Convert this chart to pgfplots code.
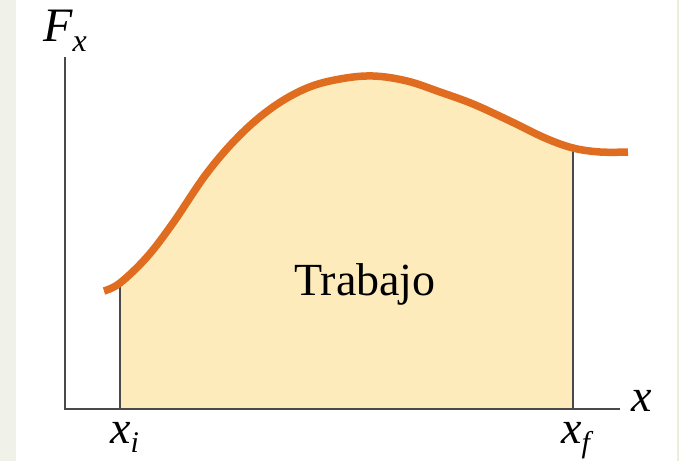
\documentclass[border=0pt]{standalone}
\usepackage{pgfplots}
\pgfplotsset{compat=1.18}
\usepgfplotslibrary{fillbetween}
\usepackage{fontspec}
\setmainfont{Liberation Serif}
\definecolor{leftbg}{HTML}{F0F2EA}
\definecolor{rightbg}{HTML}{E7EFD8}
\definecolor{areafill}{HTML}{FEEBBB}
\definecolor{curvecol}{HTML}{E06C1F}
\definecolor{axiscol}{HTML}{4A4A4A}
\begin{document}
\begin{tikzpicture}
\begin{axis}[
  set layers,
  width=679pt, height=461pt, scale only axis,
  xmin=0, xmax=679, ymin=0, ymax=461, y dir=reverse,
  hide axis, clip=false,
]
\begin{pgfonlayer}{axis background}
\fill[white] (axis cs:0,0) rectangle (axis cs:679,461);
\fill[leftbg] (axis cs:0,0) rectangle (axis cs:16,461);
\fill[rightbg] (axis cs:677,0) rectangle (axis cs:679,461);
\end{pgfonlayer}

\addplot[name path=curve, draw=none, smooth, tension=0.6] coordinates {
(104,291) (120,283) (147,257) (173,223) (207,173) (240,135) (273,107)
(307,88) (340,79) (373,76) (407,81) (440,92) (473,104) (510,121)
(545,138) (573,148) (600,152) (628,152)};
\addplot[name path=base, draw=none] coordinates {(60,409) (640,409)};
\addplot[areafill, draw=none] fill between[of=curve and base, soft clip={domain=120:573}];

\addplot[axiscol, line width=1.4pt] coordinates {(120,284) (120,409)};
\addplot[axiscol, line width=1.4pt] coordinates {(573,149) (573,409)};
\addplot[axiscol, line width=2pt] coordinates {(65,57) (65,409) (620,409)};

\addplot[curvecol, line width=7.5pt, smooth, tension=0.6] coordinates {
(104,291) (120,283) (147,257) (173,223) (207,173) (240,135) (273,107)
(307,88) (340,79) (373,76) (407,81) (440,92) (473,104) (510,121)
(545,138) (573,148) (600,152) (628,152)};

\node[inner sep=0pt] at (axis cs:365,284) {\fontsize{46}{50}\selectfont Trabajo};
\node[inner sep=0pt, anchor=base west] at (axis cs:43,42) {\fontsize{48}{50}\selectfont\itshape F\raisebox{-0.2em}{\fontsize{32}{32}\selectfont x}};
\node[inner sep=0pt, anchor=base west] at (axis cs:631,411) {\fontsize{46}{48}\selectfont\itshape x};
\node[inner sep=0pt, anchor=base west] at (axis cs:110,443) {\fontsize{46}{48}\selectfont\itshape x\raisebox{-0.2em}{\fontsize{30}{30}\selectfont i}};
\node[inner sep=0pt, anchor=base west] at (axis cs:561,443) {\fontsize{46}{48}\selectfont\itshape x\raisebox{-0.2em}{\fontsize{30}{30}\selectfont f}};
\end{axis}
\end{tikzpicture}
\end{document}
